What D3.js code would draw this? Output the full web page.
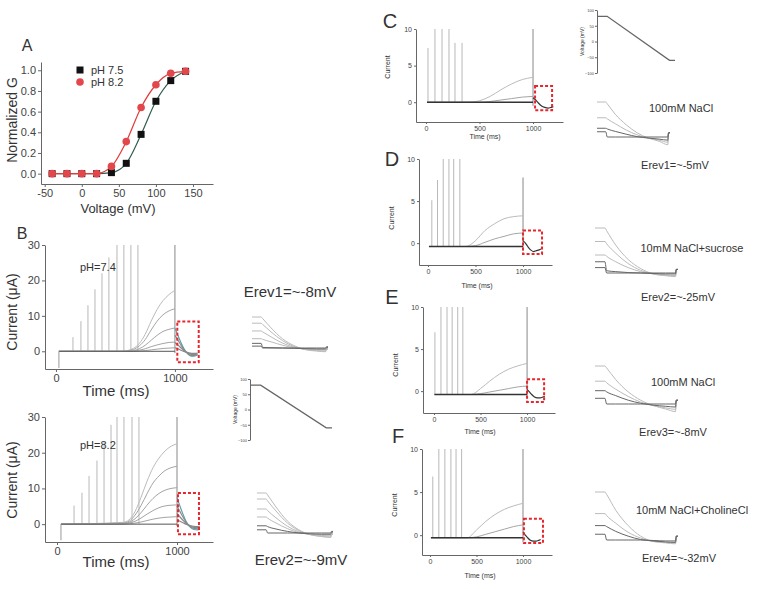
<!DOCTYPE html>
<html lang="en">
<head>
<meta charset="UTF-8">
<title>Conductance and tail currents</title>
<script src="https://d3js.org/d3.v7.min.js"></script>
<style>
  body { margin: 0; background: #fff; }
  svg { display: block; font-family: "Liberation Sans", Arial, sans-serif; }
  .axis path, .axis line { stroke: #666; }
  .axis text { fill: #444; font-family: "Liberation Sans", Arial, sans-serif; }
</style>
</head>
<body>
<svg width="766" height="589"></svg>
<script>
// ---------- panel A: normalized conductance
const gVolt = [-40, -20, 0, 20, 40, 60, 80, 100, 120, 140];
const gPh75 = [0, 0, 0, 0, 0.01, 0.1, 0.38, 0.7, 0.9, 0.99];
const gPh82 = [0, 0, 0, 0, 0.07, 0.31, 0.64, 0.86, 0.97, 0.99];

// ---------- panel B: pulse currents (uA)
const bSpikeT74 = [143, 210, 269, 328, 387, 445, 513, 571, 630, 689];
const bSpikeH74 = [4, 8.5, 13, 17.5, 22, 26.5, 30, 30, 30, 30];
const bSpikeT82 = [142, 208, 267, 333, 392, 450, 500, 558, 625, 683];
const bSpikeH82 = [5.2, 8.8, 13.5, 17.8, 23, 27.8, 30, 30, 30, 30];
const bRampT = [550, 600, 650, 700, 750, 800, 850, 900, 950, 1000];
const bRamp74 = [
  [0, 0.2, 0.8, 2.2, 4.8, 8.5, 11.8, 14.3, 16, 17.2],
  [0, 0.1, 0.5, 1.5, 3.3, 6, 8.5, 10.3, 11.4, 12],
  [0, 0, 0.2, 0.7, 1.7, 3.1, 4.5, 5.6, 6.2, 6.6],
  [0, 0, 0.1, 0.3, 0.7, 1.3, 1.8, 2.2, 2.5, 2.6],
  [0, 0, 0, 0.1, 0.2, 0.4, 0.6, 0.8, 0.9, 1.0]
];
const bRamp82 = [
  [0.5, 1.2, 3.5, 7.5, 12, 15.8, 18.5, 20.5, 21.8, 22.5],
  [0.3, 0.8, 2.5, 5.2, 8.5, 11.5, 13.5, 15, 15.8, 16.2],
  [0.2, 0.5, 1.5, 3.2, 5.3, 7.2, 8.6, 9.5, 10, 10.2],
  [0.1, 0.3, 0.8, 1.7, 2.8, 3.8, 4.6, 5.1, 5.3, 5.4],
  [0, 0.1, 0.3, 0.6, 1, 1.4, 1.7, 1.9, 2.0, 2.1]
];
const tailT = [1000, 1025, 1050, 1080, 1110, 1140, 1170, 1190];
const bTail74 = [
  [6.5, 4.5, 2.5, 0.5, -0.8, -1.4, -1.3, -1],
  [4.5, 3.2, 1.8, 0.3, -0.7, -1.2, -1.1, -0.9],
  [2.5, 1.8, 1, 0.1, -0.5, -0.9, -0.9, -0.7],
  [1, 0.7, 0.3, -0.1, -0.4, -0.6, -0.6, -0.5]
];
const bTail82 = [
  [7.5, 5, 2.8, 0.5, -0.8, -1.5, -1.6, -1.4],
  [5, 3.5, 2, 0.3, -0.7, -1.2, -1.3, -1.1],
  [3, 2, 1.1, 0.1, -0.5, -0.9, -1, -0.8],
  [1.2, 0.8, 0.4, -0.1, -0.4, -0.6, -0.7, -0.6]
];

// ---------- panels C-F: pulse currents
const cSpikeT = [19, 84, 150, 215, 271, 337];
const cSpikeH = [7.4, 10, 10, 10, 8.1, 8.1];
const dSpikeT = [40, 100, 160, 220, 270, 335];
const dSpikeH = [5.1, 7.5, 10, 10, 10, 10];
const eSpikeT = [10, 75, 140, 195, 255, 310];
const eSpikeH = [7, 10, 10, 10, 10, 10];
const fSpikeT = [30, 95, 160, 225, 280, 340];
const fSpikeH = [6.8, 10, 10, 10, 10, 10];
const smallRampT = [400, 500, 600, 700, 800, 900, 1000];
const cRamp = [[0, 0.2, 0.8, 1.7, 2.5, 3.1, 3.4], [0, 0, 0.1, 0.3, 0.5, 0.7, 0.8]];
const dRamp = [[-0.4, 0.3, 1.5, 2.3, 2.9, 3.15, 3.25], [-0.4, -0.3, 0.1, 0.5, 0.8, 1.1, 1.2]];
const eRamp = [[-0.4, 0.3, 1.2, 2.0, 2.6, 3.0, 3.3], [-0.4, -0.3, -0.1, 0.1, 0.3, 0.5, 0.6]];
const fRamp = [[-0.3, 0.6, 1.6, 2.4, 3.0, 3.4, 3.7], [-0.3, -0.2, 0.1, 0.4, 0.7, 1.0, 1.2]];
const cTail = [0.6, 0.3, -0.1, -0.5, -0.7, -0.8, -0.7, -0.6];
const dTail = [0.3, 0, -0.4, -0.8, -1, -0.9, -0.8, -0.7];
const eTail = [0.2, -0.1, -0.4, -0.7, -0.8, -0.8, -0.7, -0.6];
const fTail = [0.4, 0, -0.3, -0.6, -0.7, -0.7, -0.6, -0.5];

// ---------- zoomed tail insets (relative units) and voltage ramp
const insetT = [0, 12, 14, 25, 40, 55, 70, 85, 97, 98, 100];
const insB74 = [
  [10, 10, 9.5, 6.5, 3, 0.8, -0.5, -1, -1.2, -0.3, -0.3],
  [8, 8, 7.6, 5.2, 2.4, 0.5, -0.5, -0.8, -1, -0.3, -0.3],
  [5.5, 5.5, 5.2, 3.6, 1.6, 0.3, -0.4, -0.6, -0.7, -0.3, -0.3],
  [3, 3, 2.8, 2, 0.9, 0.1, -0.3, -0.4, -0.5, -0.3, -0.3],
  [1.5, 1.5, 0.2, 0.1, 0, -0.1, -0.2, -0.3, -0.3, 0.2, 0.2],
  [0.6, 0.6, 0, 0, 0, 0, 0, 0, 0, 0.4, 0.4]
];
const insB82 = [
  [10, 10, 9.5, 6.5, 3, 0.8, -0.4, -0.9, -1.1, -0.3, -0.3],
  [8.5, 8.5, 8, 5.5, 2.5, 0.6, -0.4, -0.8, -1, -0.3, -0.3],
  [6, 6, 5.6, 3.8, 1.7, 0.3, -0.4, -0.6, -0.7, -0.3, -0.3],
  [4, 4, 3.7, 2.5, 1.1, 0.1, -0.3, -0.5, -0.5, -0.3, -0.3],
  [1.8, 1.8, 1.6, 1, 0.4, 0, -0.2, -0.3, -0.3, 0.2, 0.2],
  [0.8, 0.8, 0, 0, 0, 0, 0, 0, 0, 0.4, 0.4]
];
const insC = [
  [10, 10, 9.5, 6.5, 3.5, 1.2, -0.3, -1.2, -2.2, 1.2, 1.2],
  [5.5, 5.5, 5.2, 3.8, 2, 0.6, -0.3, -0.9, -1.5, 1.2, 1.2],
  [2.5, 2.5, 2.3, 1.6, 0.8, 0.1, -0.3, -0.6, -0.9, 1.2, 1.2],
  [1.5, 1.5, 0, 0, 0, 0, 0, 0, 0, 1.2, 1.2]
];
const insD = [
  [10, 10, 9.4, 6.2, 3, 1, -0.2, -0.6, -0.8, 0.8, 0.8],
  [7, 7, 6.5, 4.4, 2.1, 0.6, -0.2, -0.5, -0.6, 0.8, 0.8],
  [4, 4, 3.7, 2.5, 1.2, 0.3, -0.2, -0.4, -0.5, 0.8, 0.8],
  [2.5, 2.5, 0.5, 0.3, 0.1, 0, -0.1, -0.2, -0.2, 0.8, 0.8],
  [1.2, 1.2, 0, 0, 0, 0, 0, 0, 0, 0.8, 0.8]
];
const insE = [
  [10, 10, 9.5, 6.4, 3.2, 1, -0.4, -1.3, -2, 1, 1],
  [6, 6, 5.6, 3.9, 2, 0.5, -0.4, -1, -1.4, 1, 1],
  [3.5, 3.5, 3.2, 2.2, 1, 0.2, -0.3, -0.6, -0.8, 1, 1],
  [1.5, 1.5, 0, 0, 0, 0, 0, 0, 0, 1, 1]
];
const insF = [
  [10, 10, 9.5, 6.2, 3, 0.8, -0.3, -0.6, -0.8, 0.8, 0.8],
  [5.5, 5.5, 5.1, 3.5, 1.6, 0.4, -0.3, -0.5, -0.6, 0.8, 0.8],
  [3, 3, 2.8, 1.8, 0.8, 0.1, -0.2, -0.4, -0.5, 0.8, 0.8],
  [1.2, 1.2, 0, 0, 0, 0, -0.1, -0.2, -0.2, 0.8, 0.8]
];
const rampT = [0, 13, 93, 100];
const rampMv = [80, 80, -60, -60];
const rampTicks = [100, 50, 0, -50, -100];

const svg = d3.select("svg");
const mono = d3.line().curve(d3.curveMonotoneX);

function txt(x, y, s, size, anchor, rot) {
  const t = svg.append("text").attr("x", x).attr("y", y).text(s)
    .style("font-size", size + "px").attr("fill", "#333")
    .attr("text-anchor", anchor || "middle");
  if (rot) t.attr("transform", `rotate(-90,${x},${y})`);
  return t;
}

function axes(x, y, xt, yt, fs, ts, fmtY) {
  svg.append("g").attr("class", "axis")
    .attr("transform", `translate(0,${y.range()[0]})`)
    .call(d3.axisBottom(x).tickValues(xt).tickSize(ts).tickSizeOuter(0).tickPadding(2)
      .tickFormat(d => d))
    .call(g => g.selectAll("text").style("font-size", fs + "px"));
  svg.append("g").attr("class", "axis")
    .attr("transform", `translate(${x.range()[0]},0)`)
    .call(d3.axisLeft(y).tickValues(yt).tickSize(ts).tickSizeOuter(0).tickPadding(2)
      .tickFormat(fmtY || (d => d)))
    .call(g => g.selectAll("text").style("font-size", fs + "px"));
}

// ---------- panel A
(function () {
  const x = d3.scaleLinear().domain([-55, 177]).range([41, 213]);
  const y = d3.scaleLinear().domain([-0.1, 1.08]).range([184, 62]);
  axes(x, y, [-50, 0, 50, 100, 150], [0, 0.2, 0.4, 0.6, 0.8, 1.0], 11, 3, d3.format(".1f"));
  const pts = (v) => gVolt.map((d, i) => [x(d), y(v[i])]);
  svg.append("path").attr("d", mono(pts(gPh75))).attr("fill", "none")
    .attr("stroke", "#2f5d50").attr("stroke-width", 1.2);
  svg.append("path").attr("d", mono(pts(gPh82))).attr("fill", "none")
    .attr("stroke", "#e03a3a").attr("stroke-width", 1.2);
  svg.selectAll(".sq").data(gVolt).enter().append("rect")
    .attr("x", (d, i) => x(d) - 3.5).attr("y", (d, i) => y(gPh75[i]) - 3.5)
    .attr("width", 7).attr("height", 7).attr("fill", "#111");
  svg.selectAll(".ci").data(gVolt).enter().append("circle")
    .attr("cx", d => x(d)).attr("cy", (d, i) => y(gPh82[i])).attr("r", 3.8)
    .attr("fill", "#e2474b");
  svg.append("rect").attr("x", 76.5).attr("y", 66.5).attr("width", 7).attr("height", 7).attr("fill", "#111");
  txt(91, 74, "pH 7.5", 11, "start");
  svg.append("circle").attr("cx", 80).attr("cy", 82).attr("r", 3.8).attr("fill", "#e2474b");
  txt(91, 86, "pH 8.2", 11, "start");
  txt(27, 51, "A", 16);
  txt(17, 120, "Normalized G", 14, "middle", true);
  txt(118, 213, "Voltage (mV)", 13);
})();

// ---------- trace panels
function tracePanel(p) {
  const x = d3.scaleLinear().domain(p.xd).range(p.xr);
  const y = d3.scaleLinear().domain(p.yd).range(p.yr);
  axes(x, y, [0, p.xm, 1000].filter(d => d != null), p.yt, p.fs, p.ts);
  const g = svg.append("g").attr("fill", "none");
  // capacitive spikes
  p.spT.forEach((t, i) => {
    g.append("line").attr("x1", x(t)).attr("x2", x(t)).attr("y1", y(p.base)).attr("y2", y(p.spH[i]))
      .attr("stroke", "#b0b0b0").attr("stroke-width", 0.9);
  });
  // pulse end line
  g.append("line").attr("x1", x(1000)).attr("x2", x(1000))
    .attr("y1", y(p.base - 0.5)).attr("y2", y(p.endH))
    .attr("stroke", "#888").attr("stroke-width", 1);
  // growing currents
  p.ramps.forEach((v, k) => {
    const pts = [[x(p.t0), y(p.base)]].concat(p.rampT.map((t, i) => [x(t), y(v[i])]));
    g.append("path").attr("d", mono(pts)).attr("stroke", k === 0 ? "#bbb" : "#a5a5a5").attr("stroke-width", 1);
  });
  // baseline
  g.append("line").attr("x1", x(p.t0)).attr("x2", x(1000)).attr("y1", y(p.base)).attr("y2", y(p.base))
    .attr("stroke", p.bc).attr("stroke-width", p.bw);
  if (p.drop != null) {
    g.append("line").attr("x1", x(p.t0)).attr("x2", x(p.t0)).attr("y1", y(p.base)).attr("y2", y(p.drop))
      .attr("stroke", "#999").attr("stroke-width", 1);
  }
  // tails
  p.tails.forEach((v, k) => {
    g.append("path").attr("d", mono(tailT.map((t, i) => [x(t), y(v[i])])))
      .attr("stroke", k === 0 ? p.tailCol : "#888").attr("stroke-width", 1.2);
  });
  // dashed selection box
  svg.append("rect").attr("x", x(p.box[0])).attr("y", y(p.box[3]))
    .attr("width", x(p.box[1]) - x(p.box[0])).attr("height", y(p.box[2]) - y(p.box[3]))
    .attr("fill", "none").attr("stroke", "#e8262c").attr("stroke-width", 2).attr("stroke-dasharray", "3,2");
}

tracePanel({xd: [-92, 1320], xr: [45, 213], yd: [-5, 30], yr: [369, 245], yt: [0, 10, 20, 30], fs: 11, ts: 3,
  spT: bSpikeT74, spH: bSpikeH74, endH: 30, base: 0, t0: 25, drop: -4.7, bw: 1, bc: "#555",
  rampT: bRampT, ramps: bRamp74, tails: bTail74, tailCol: "#5f9fb0", box: [1020, 1200, -3.1, 8.4]});
tracePanel({xd: [-100, 1300], xr: [45, 213], yd: [-5, 30], yr: [542, 417], yt: [0, 10, 20, 30], fs: 11, ts: 3,
  spT: bSpikeT82, spH: bSpikeH82, endH: 30, base: 0, t0: 33, drop: -4.5, bw: 1, bc: "#555",
  rampT: bRampT, ramps: bRamp82, tails: bTail82, tailCol: "#5f9fb0", box: [1008, 1183, -2.8, 8.7]});
tracePanel({xd: [-93, 1280], xr: [416, 563], yd: [-2.7, 10], yr: [122, 29], yt: [0, 5, 10], xm: 500, fs: 7, ts: 2,
  spT: cSpikeT, spH: cSpikeH, endH: 10, base: 0, t0: 10, bw: 1.5, bc: "#333",
  rampT: smallRampT, ramps: cRamp, tails: [cTail], tailCol: "#333", box: [1019, 1178, -1.1, 2.2]});
tracePanel({xd: [-95, 1305], xr: [419, 552], yd: [-2.6, 10], yr: [265, 159], yt: [0, 5, 10], xm: 500, fs: 7, ts: 2,
  spT: dSpikeT, spH: dSpikeH, endH: 7.8, base: -0.4, t0: 10, bw: 1.5, bc: "#333",
  rampT: smallRampT, ramps: dRamp, tails: [dTail], tailCol: "#333", box: [1000, 1200, -1.3, 1.5]});
tracePanel({xd: [-118, 1300], xr: [423, 555], yd: [-2.6, 10], yr: [413, 307], yt: [0, 5, 10], xm: 500, fs: 7, ts: 2,
  spT: eSpikeT, spH: eSpikeH, endH: 10, base: -0.4, t0: 5, bw: 1.5, bc: "#333",
  rampT: smallRampT, ramps: eRamp, tails: [eTail], tailCol: "#333", box: [1000, 1183, -1.3, 1.4]});
tracePanel({xd: [-86, 1312], xr: [422, 552], yd: [-2.3, 10], yr: [555, 449], yt: [0, 5, 10], xm: 500, fs: 7, ts: 2,
  spT: fSpikeT, spH: fSpikeH, endH: 10, base: -0.3, t0: 10, bw: 1.5, bc: "#333",
  rampT: smallRampT, ramps: fRamp, tails: [fTail], tailCol: "#333", box: [1010, 1215, -0.9, 1.9]});

// labels for B
txt(22, 239, "B", 16);
txt(80, 271, "pH=7.4", 11, "start");
txt(80, 449, "pH=8.2", 11, "start");
txt(17, 312, "Current (\u03bcA)", 14, "middle", true);
txt(17, 480, "Current (\u03bcA)", 14, "middle", true);
txt(116, 396, "Time (ms)", 15);
txt(116, 567, "Time (ms)", 15);

// labels for C-F
[["C", 390, 28], ["D", 392, 166], ["E", 392, 304], ["F", 398, 443]].forEach(d => {
  txt(d[1], d[2], d[0], 20).attr("font-weight", 300);
});
[[390, 67], [394, 218], [398, 365], [397, 505]].forEach(d => txt(d[0], d[1], "Current", 7, "middle", true));
[[485, 139], [477, 288], [480, 434], [480, 578]].forEach(d => txt(d[0], d[1], "Time (ms)", 7));

// ---------- tail insets
function inset(x0, x1, top, base, traces) {
  const x = d3.scaleLinear().domain([0, 100]).range([x0, x1]);
  const y = d3.scaleLinear().domain([0, 10]).range([base, top]);
  const n = traces.length;
  traces.forEach((v, k) => {
    svg.append("path").attr("d", mono(insetT.map((t, i) => [x(t), y(v[i])])))
      .attr("fill", "none").attr("stroke", k < n - 2 ? "#bbb" : "#666").attr("stroke-width", 1);
  });
}
inset(252, 328, 317, 348, insB74);
inset(257, 333, 493, 533, insB82);
inset(597, 670, 102, 137, insC);
inset(595, 678, 228, 273, insD);
inset(595, 678, 366, 404, insE);
inset(595, 678, 492, 540, insF);

// ---------- voltage ramp insets
function rampInset(x0, x1, yTop, yBot) {
  const x = d3.scaleLinear().domain([0, 100]).range([x0, x1]);
  const y = d3.scaleLinear().domain([-100, 100]).range([yBot, yTop]);
  svg.append("g").attr("class", "axis").attr("transform", `translate(${x0},0)`)
    .call(d3.axisLeft(y).tickValues(rampTicks).tickSize(2).tickSizeOuter(0).tickPadding(1))
    .call(g => g.selectAll("text").style("font-size", "4px"));
  svg.append("path").attr("d", d3.line()(rampT.map((t, i) => [x(t), y(rampMv[i])])))
    .attr("fill", "none").attr("stroke", "#666").attr("stroke-width", 1.3);
  txt(x0 - 13, (yTop + yBot) / 2, "Voltage (mV)", 5, "middle", true);
}
rampInset(250, 332, 379, 440);
rampInset(597, 675, 10, 73);

// ---------- reversal potential text
txt(290, 297, "Erev1=~-8mV", 15);
txt(301, 565, "Erev2=~-9mV", 15);
txt(681, 112, "100mM NaCl", 11);
txt(675, 169, "Erev1=~-5mV", 11);
txt(692, 252, "10mM NaCl+sucrose", 11);
txt(678, 301, "Erev2=~-25mV", 11);
txt(683, 386, "100mM NaCl", 11);
txt(673, 436, "Erev3=~-8mV", 11);
txt(692, 514, "10mM NaCl+CholineCl", 11);
txt(679, 562, "Erev4=~-32mV", 11);
</script>
</body>
</html>
